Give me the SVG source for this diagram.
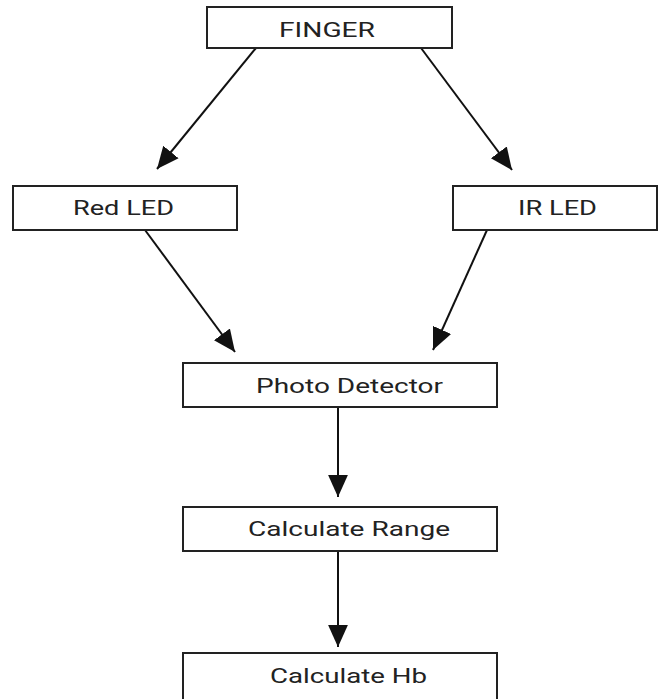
<svg xmlns="http://www.w3.org/2000/svg" width="664" height="699" viewBox="0 0 664 699">
<style>
.box{fill:#fff;stroke:#222;stroke-width:2}
.lbl{font-family:Roboto,"Liberation Sans",sans-serif;font-size:21px;fill:#222}
.con{stroke:#111;stroke-width:2;fill:none;marker-end:url(#ah)}
</style>
<defs>
<marker id="ah" markerUnits="userSpaceOnUse" markerWidth="22" markerHeight="22" viewBox="0 0 20 20" refX="20" refY="10" orient="auto">
<path d="M0,1 L20,10 L0,19 Z" fill="#111"/>
</marker>
</defs>
<rect width="664" height="699" fill="#fff"/>
<g id="connectors">
<line class="con" x1="256" y1="48" x2="157" y2="169"/>
<line class="con" x1="421" y1="48" x2="512" y2="170"/>
<line class="con" x1="145" y1="230" x2="235" y2="352"/>
<line class="con" x1="487" y1="230" x2="433" y2="350"/>
<line class="con" x1="338" y1="407" x2="338" y2="497"/>
<line class="con" x1="338" y1="551" x2="338" y2="647"/>
</g>
<g id="finger">
<rect class="box" x="207" y="7" width="245" height="41"/>
<text class="lbl" x="279" y="37" textLength="96" lengthAdjust="spacingAndGlyphs">FINGER</text>
</g>
<g id="red-led">
<rect class="box" x="13" y="186" width="224" height="44"/>
<text class="lbl" x="73" y="215" textLength="101" lengthAdjust="spacingAndGlyphs">Red LED</text>
</g>
<g id="ir-led">
<rect class="box" x="453" y="186" width="204" height="44"/>
<text class="lbl" x="518" y="215" textLength="79" lengthAdjust="spacingAndGlyphs">IR LED</text>
</g>
<g id="photo-detector">
<rect class="box" x="183" y="363" width="314" height="44"/>
<text class="lbl" x="256" y="393" textLength="187" lengthAdjust="spacingAndGlyphs">Photo Detector</text>
</g>
<g id="calculate-range">
<rect class="box" x="183" y="507" width="314" height="44"/>
<text class="lbl" x="248" y="536" textLength="202" lengthAdjust="spacingAndGlyphs">Calculate Range</text>
</g>
<g id="calculate-hb">
<rect class="box" x="183" y="653" width="314" height="50"/>
<text class="lbl" x="270" y="683" textLength="157" lengthAdjust="spacingAndGlyphs">Calculate Hb</text>
</g>
</svg>
